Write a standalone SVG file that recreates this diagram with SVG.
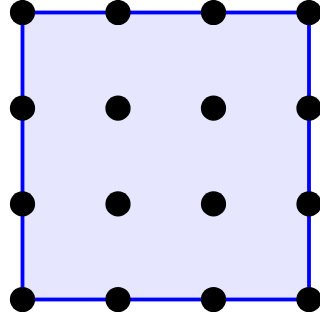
<svg xmlns="http://www.w3.org/2000/svg" width="320" height="320" viewBox="0 0 320 320">
<style>
.sq{fill:#E6E6FF;stroke:#0000FF;stroke-width:3.8}
.d{fill:#000}
</style>
<rect width="320" height="320" fill="#fff"/>
<g id="square"><rect class="sq" x="22.5" y="12.5" width="286.5" height="287"/></g>
<g id="dots">
<circle class="d" cx="22.5" cy="12.5" r="12.6"/><circle class="d" cx="118" cy="12.5" r="12.6"/><circle class="d" cx="213.5" cy="12.5" r="12.6"/><circle class="d" cx="309" cy="12.5" r="12.6"/>
<circle class="d" cx="22.5" cy="108.2" r="12.6"/><circle class="d" cx="118" cy="108.2" r="12.6"/><circle class="d" cx="213.5" cy="108.2" r="12.6"/><circle class="d" cx="309" cy="108.2" r="12.6"/>
<circle class="d" cx="22.5" cy="203.9" r="12.6"/><circle class="d" cx="118" cy="203.9" r="12.6"/><circle class="d" cx="213.5" cy="203.9" r="12.6"/><circle class="d" cx="309" cy="203.9" r="12.6"/>
<circle class="d" cx="22.5" cy="299.5" r="12.6"/><circle class="d" cx="118" cy="299.5" r="12.6"/><circle class="d" cx="213.5" cy="299.5" r="12.6"/><circle class="d" cx="309" cy="299.5" r="12.6"/>
</g>
</svg>
